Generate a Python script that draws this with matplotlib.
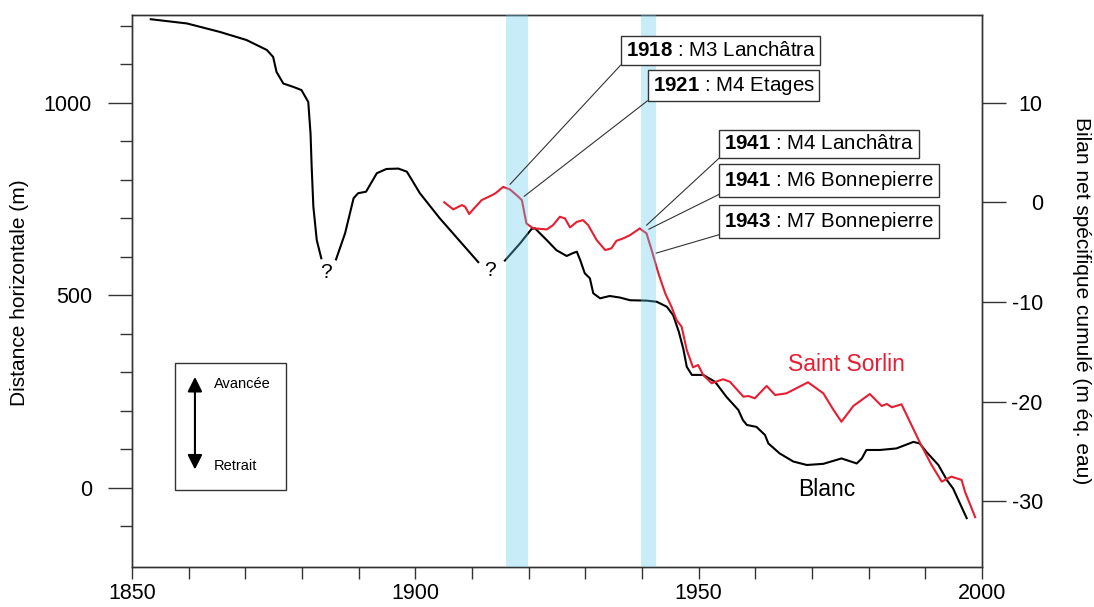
import numpy as np
from matplotlib import pyplot as plt

plt.rcParams['font.family'] = ['Liberation Sans', 'DejaVu Sans']
plt.rcParams['mathtext.fontset'] = 'custom'
plt.rcParams['mathtext.rm'] = 'Liberation Sans'
plt.rcParams['mathtext.bf'] = 'Liberation Sans:bold'

# Blanc glacier front position (m), three pieces separated by gaps
blanc_a_year = [1853.3, 1859.7, 1865.5, 1870.2, 1873.8, 1874.9, 1875.5, 1876.7, 1878.5,
                1879.9, 1881.1, 1881.5, 1881.7, 1882.0, 1882.6, 1883.4]
blanc_a_dist = [1217, 1206, 1184, 1163, 1137, 1119, 1080, 1050, 1041,
                1033, 1002, 920, 834, 730, 643, 596]

blanc_b_year = [1886.0, 1887.6, 1889.1, 1889.9, 1891.3, 1893.2, 1894.9, 1897.0, 1898.5,
                1900.8, 1904.3, 1911.1]
blanc_b_dist = [593, 661, 752, 765, 769, 817, 828, 829, 821,
                765, 700, 586]

blanc_c_year = [1915.8, 1918.5, 1920.5, 1921.1, 1923.2, 1924.9, 1926.7, 1927.9, 1928.5,
                1929.1, 1929.9, 1930.8, 1931.4, 1932.6, 1934.3, 1936.1, 1937.9, 1940.8,
                1942.6, 1944.4, 1945.5, 1946.5, 1947.3, 1947.9, 1948.8, 1950.8, 1952.9,
                1954.9, 1957.0, 1957.8, 1958.5, 1960.2, 1961.7, 1962.3, 1964.3, 1966.7,
                1969.1, 1972.0, 1975.2, 1977.9, 1978.8, 1979.6, 1982.0, 1984.9, 1987.9,
                1989.0, 1990.2, 1992.3, 1993.8, 1994.9, 1997.3]
blanc_c_dist = [590, 635, 672, 674, 643, 617, 602, 610, 613,
                591, 557, 544, 505, 492, 498, 494, 487, 486,
                483, 470, 448, 405, 360, 314, 293, 293, 275,
                236, 202, 176, 163, 158, 137, 115, 89, 68,
                59, 62, 76, 63, 76, 98, 98, 102, 119,
                115, 93, 59, 20, -2, -79]

# Saint Sorlin cumulative mass balance (m w.e.)
ss_year = [1905.1, 1906.7, 1908.2, 1908.8, 1909.5, 1910.2, 1911.7, 1913.2, 1914.1, 1915.5,
           1916.7, 1918.2, 1918.8, 1919.6, 1920.8, 1922.0, 1923.2, 1924.3, 1925.5, 1926.4,
           1927.3, 1928.5, 1929.6, 1930.5, 1932.0, 1933.5, 1934.6, 1935.5, 1936.7, 1937.9,
           1939.6, 1940.8, 1941.7, 1942.9, 1944.1, 1945.2, 1946.1, 1947.0, 1947.9, 1949.0,
           1949.9, 1950.8, 1952.3, 1954.3, 1955.5, 1957.9, 1958.8, 1959.9, 1962.0, 1963.5,
           1965.5, 1969.3, 1972.0, 1973.8, 1975.2, 1977.3, 1980.2, 1982.3, 1983.2, 1984.1,
           1985.8, 1989.1, 1991.1, 1992.9, 1994.6, 1996.4, 1997.0, 1998.8]
ss_bilan = [0.0, -0.71, -0.28, -0.45, -1.18, -0.71, 0.22, 0.62, 0.89, 1.55,
            1.29, 0.55, 0.22, -2.12, -2.62, -2.66, -2.72, -2.29, -1.45, -1.61,
            -2.52, -1.96, -1.79, -2.29, -3.79, -4.79, -4.62, -3.86, -3.62, -3.29,
            -2.62, -3.12, -4.79, -7.13, -9.14, -10.48, -11.82, -12.49, -14.82, -16.56,
            -16.33, -17.33, -18.16, -17.76, -18.0, -19.51, -19.44, -19.67, -18.43, -19.34,
            -19.17, -18.06, -19.17, -20.84, -22.02, -20.44, -19.24, -20.44, -20.24, -20.57,
            -20.27, -24.18, -26.36, -28.03, -27.53, -27.86, -29.04, -31.6]

bands = [(1916.0, 1919.8), (1939.8, 1942.4)]

# moraine labels: curve point (year, bilan) and text anchor (year, bilan)
ann_bold = ['1918', '1921', '1941', '1941', '1943']
ann_text = [' : M3 Lanchâtra', ' : M4 Etages', ' : M4 Lanchâtra', ' : M6 Bonnepierre', ' : M7 Bonnepierre']
ann_pt = [(1916.7, 1.8), (1919.2, 0.6), (1940.8, -2.3), (1941.2, -2.7), (1942.5, -5.1)]
ann_box = [(1937.1, 14.3), (1941.9, 10.6), (1954.5, 4.9), (1954.5, 1.05), (1954.5, -3.1)]

red = '#e61e32'

fig = plt.figure(figsize=(10.94, 6.07), dpi=100)
ax = fig.add_axes([0.1207, 0.0659, 0.7769, 0.9094])
ax2 = ax.twinx()

ax.set_xlim(1850, 2000)
ax.set_ylim(-206, 1228)
ax2.set_ylim(-36.6, 18.8)

ax.plot(blanc_a_year, blanc_a_dist, color='black', lw=1.5, solid_joinstyle='round')
ax.plot(blanc_b_year, blanc_b_dist, color='black', lw=1.5, solid_joinstyle='round')
ax.plot(blanc_c_year, blanc_c_dist, color='black', lw=1.5, solid_joinstyle='round')
ax2.plot(ss_year, ss_bilan, color=red, lw=1.5, solid_joinstyle='round')

for b0, b1 in bands:
    ax2.axvspan(b0, b1, color='#62c9eb', alpha=0.35, lw=0, zorder=5)

ax.text(1884.2, 560, '?', fontsize=15, ha='center', va='center')
ax.text(1913.2, 565, '?', fontsize=15, ha='center', va='center')
ax2.text(1976, -16.3, 'Saint Sorlin', color=red, fontsize=16.5, ha='center', va='center')
ax2.text(1972.6, -28.8, 'Blanc', color='black', fontsize=16.5, ha='center', va='center')

for b, t, p, q in zip(ann_bold, ann_text, ann_pt, ann_box):
    ax2.annotate(r'$\mathbf{' + b + '}$' + t, xy=p, xytext=q, fontsize=14.8,
                 ha='left', va='bottom',
                 bbox=dict(boxstyle='square,pad=0.23', fc='white', ec='#333333', lw=1),
                 arrowprops=dict(arrowstyle='-', color='#333333', lw=0.8,
                                 shrinkA=0, shrinkB=0, relpos=(0, 0)),
                 zorder=6)

# Avancee / Retrait box
box = plt.Rectangle((1857.6, -5), 19.6, 330, fill=False, ec='#333333', lw=1)
ax.add_patch(box)
ax.annotate('', xy=(1861.1, 295), xytext=(1861.1, 40),
            arrowprops=dict(arrowstyle='<|-|>', color='black', lw=1.5, mutation_scale=22))
ax.text(1864.5, 269, 'Avancée', fontsize=10.5, ha='left', va='center')
ax.text(1864.4, 57, 'Retrait', fontsize=10.5, ha='left', va='center')

ax.set_xticks([1850, 1900, 1950, 2000])
ax.set_xticks(np.arange(1850, 2001, 10), minor=True)
ax.set_yticks([0, 500, 1000])
ax.set_yticks(np.arange(-100, 1201, 100), minor=True)
ax2.set_yticks([-30, -20, -10, 0, 10])
ax2.set_yticklabels(['-30', '-20', '-10', '0', '10'])
for lbl in ax2.get_yticklabels():
    lbl.set_ha('right')

ax.tick_params(axis='x', which='both', length=8.6, width=1, color='#333333', labelsize=15.5, pad=3)
ax.tick_params(axis='y', which='major', length=17.3, width=1, color='#333333', labelsize=15.5, pad=11.5)
ax.tick_params(axis='y', which='minor', length=8.6, width=1, color='#333333')
ax2.tick_params(axis='y', which='major', length=17.3, width=1, color='#333333', labelsize=15.5, pad=26.5)

for a in (ax, ax2):
    for s in a.spines.values():
        s.set_color('#333333')
        s.set_linewidth(1)

ax.set_ylabel('Distance horizontale (m)', fontsize=15)
ax.yaxis.set_label_coords(-0.121, 0.497)
ax2.set_ylabel('Bilan net spécifique cumulé (m éq. eau)', fontsize=15, rotation=270,
               va='center', ha='center')
ax2.yaxis.set_label_coords(1.1176, 0.482)

plt.savefig('out.png', dpi=100)
